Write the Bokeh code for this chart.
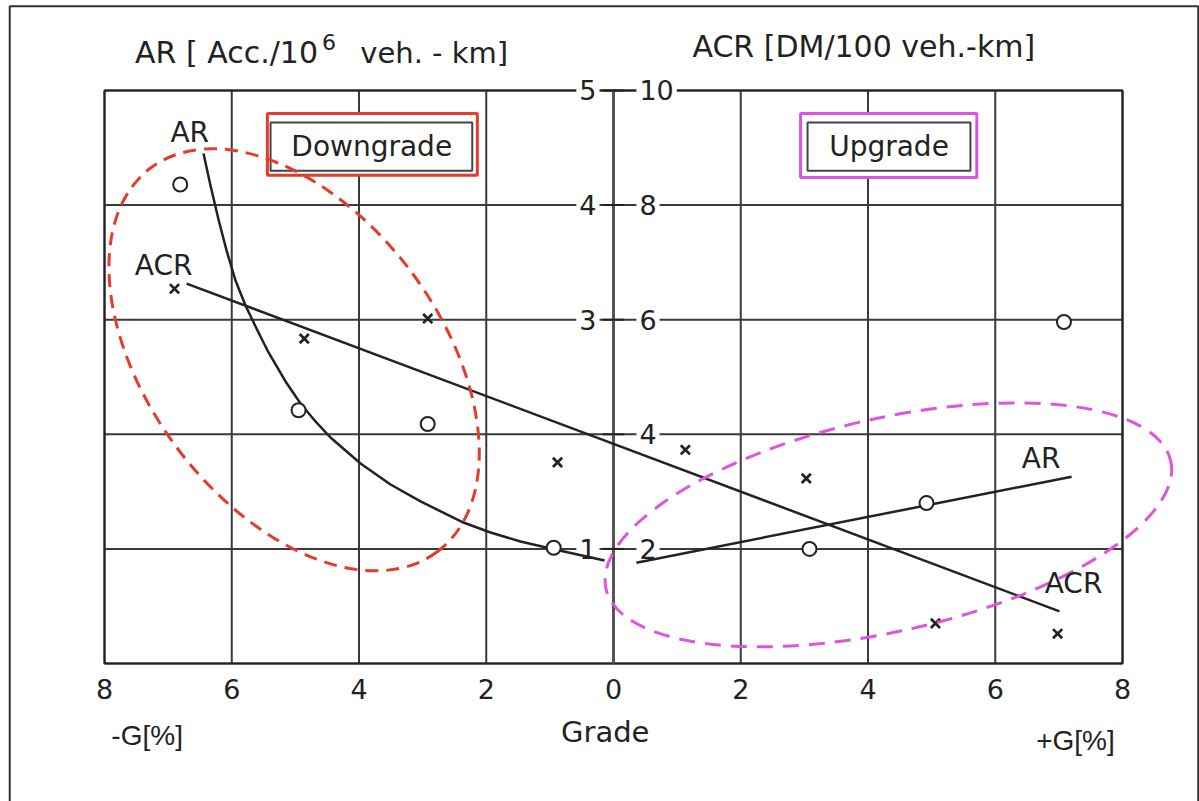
import numpy as np
from bokeh.plotting import figure
from bokeh.models import Range1d
from bokeh.core.properties import value
from bokeh.embed import file_html
from bokeh.resources import INLINE

# ---------------- data ----------------
grade_ticks = [-8, -6, -4, -2, 0, 2, 4, 6, 8]
grade_tick_labels = ["8", "6", "4", "2", "0", "2", "4", "6", "8"]
ar_levels = [0, 1, 2, 3, 4, 5]
ar_axis_levels = [5, 4, 3, 1]
ar_axis_labels = ["5", "4", "3", "1"]
acr_axis_levels = [10, 8, 6, 4, 2]
acr_axis_labels = ["10", "8", "6", "4", "2"]

# observed accident rate (AR, circles)
ar_grade = [-6.81, -4.95, -2.92, -0.94, 3.08, 4.92, 7.08]
ar_value = [4.18, 2.21, 2.09, 1.01, 1.00, 1.40, 2.98]
# observed accident cost rate (ACR, crosses)
acr_grade = [-6.90, -4.86, -2.92, -0.88, 1.13, 3.03, 5.06, 6.98]
acr_value = [6.54, 5.67, 6.02, 3.51, 3.73, 3.23, 0.70, 0.52]

# fitted AR curve, downgrade side
ar_down_grade = [-6.444, -6.334, -6.208, -6.082, -5.941, -5.784, -5.611, -5.438,
                 -5.155, -4.919, -4.684, -4.448, -3.976, -3.505, -3.033, -2.358,
                 -1.933, -1.462, -0.990, -0.141]
ar_down_value = [4.450, 4.171, 3.874, 3.604, 3.342, 3.124, 2.923, 2.731,
                 2.461, 2.269, 2.112, 1.972, 1.745, 1.562, 1.414, 1.230,
                 1.143, 1.065, 1.003, 0.899]
# fitted AR line, upgrade side
ar_up_grade = [0.36, 7.20]
ar_up_value = [0.88, 1.63]
# fitted ACR line
acr_fit_grade = [-6.71, 7.01]
acr_fit_value = [6.63, 0.91]

INK = "#222222"
GRID = "#3a3a3a"
RED = "#e53b2f"
MAG = "#dd55dd"
FONT = "DejaVu Sans"

# the frame covers the whole canvas; the chart area (-8..8, 0..5) sits inside it
X0, X1 = -9.6346, 9.2102
Y0, Y1 = -1.2042, 5.7853
p = figure(width=1199, height=801, x_range=Range1d(X0, X1), y_range=Range1d(Y0, Y1),
           x_axis_type=None, y_axis_type=None, toolbar_location=None,
           output_backend="svg", min_border=0)
p.extra_y_ranges = {"acr": Range1d(2 * Y0, 2 * Y1)}
p.outline_line_color = None
p.background_fill_color = "white"
p.border_fill_color = "white"
p.xgrid.visible = False
p.ygrid.visible = False

gmin, gmax = min(grade_ticks), max(grade_ticks)
lmin, lmax = min(ar_levels), max(ar_levels)

# outer page frame
p.quad(left=[X0 + 0.145], right=[X1 - 0.02], top=[Y1 - 0.05], bottom=[Y0 - 1],
       fill_color=None, line_color="#333333", line_width=2)

# grid
p.segment(x0=grade_ticks, x1=grade_ticks, y0=[lmin] * 9, y1=[lmax] * 9,
          line_color=GRID, line_width=2)
p.segment(x0=[gmin] * 6, x1=[gmax] * 6, y0=ar_levels, y1=ar_levels,
          line_color=GRID, line_width=2)
p.quad(left=[gmin], right=[gmax], bottom=[lmin], top=[lmax], fill_color=None,
       line_color=INK, line_width=2)

# bottom tick labels
p.text(x=grade_ticks, y=[-0.22] * 9, text=grade_tick_labels, text_align="center",
       text_baseline="middle", text_font=value(FONT), text_font_size="27px",
       text_color=INK)

# central axis
p.segment(x0=[0], y0=[lmin], x1=[0], y1=[lmax], line_color="#555555", line_width=3)
p.segment(x0=[-0.17] * 5, x1=[0.17] * 5, y0=ar_levels[1:], y1=ar_levels[1:],
          line_color=INK, line_width=2)
p.text(x=[-0.22] * 4, y=ar_axis_levels, text=ar_axis_labels, text_align="right",
       text_baseline="middle", text_font=value(FONT), text_font_size="27px",
       text_color=INK, background_fill_color="white", padding=3)
p.text(x=[0.36] * 5, y=acr_axis_levels, text=acr_axis_labels, text_align="left",
       text_baseline="middle", text_font=value(FONT), text_font_size="27px",
       text_color=INK, background_fill_color="white", padding=3, y_range_name="acr")

# label boxes
p.quad(left=[-5.44], right=[-2.14], top=[4.80], bottom=[4.26],
       fill_color="white", line_color=RED, line_width=3)
p.quad(left=[-5.39], right=[-2.22], top=[4.72], bottom=[4.30],
       fill_color="white", line_color="#444444", line_width=2)
p.quad(left=[2.94], right=[5.71], top=[4.80], bottom=[4.24],
       fill_color="white", line_color=MAG, line_width=3)
p.quad(left=[3.05], right=[5.61], top=[4.72], bottom=[4.30],
       fill_color="white", line_color="#444444", line_width=2)

# fitted lines
p.line(ar_down_grade, ar_down_value, line_color=INK, line_width=2.5, line_join="round")
p.line(ar_up_grade, ar_up_value, line_color=INK, line_width=2.5)
p.line(acr_fit_grade, acr_fit_value, line_color=INK, line_width=2.5, y_range_name="acr")

# observations
p.scatter(ar_grade, ar_value, marker="circle", size=14, fill_color="white",
          line_color=INK, line_width=2)
p.scatter(acr_grade, acr_value, marker="x", size=13, line_color=INK,
          line_width=2.7, y_range_name="acr")

# ellipses
p.ellipse(x=[-5.02], y=[2.65], width=479, height=293,
          width_units="screen", height_units="screen", angle=-0.93,
          fill_color=None, line_color=RED, line_width=3, line_dash="13 8")
p.ellipse(x=[4.32], y=[1.21], width=579, height=213,
          width_units="screen", height_units="screen", angle=0.223,
          fill_color=None, line_color=MAG, line_width=3, line_dash="16 10")

def lab(x, y, text, size="27px", align="center", baseline="middle", font=FONT):
    p.text(x=[x], y=[y], text=[text], text_align=align, text_baseline=baseline,
           text_font=value(font), text_font_size=size, text_color=INK)

# curve labels
lab(-6.66, 4.63, "AR", size="28px")
lab(-7.07, 3.47, "ACR", size="28px")
lab(6.72, 1.79, "AR", size="28px")
lab(7.23, 0.70, "ACR", size="28px")

# box texts
lab(-3.80, 4.51, "Downgrade", size="28px")
lab(4.33, 4.51, "Upgrade", size="28px")

# titles
lab(-7.52, 5.330, "AR [ Acc./10", size="30px", align="left")
lab(-4.58, 5.420, "6", size="22px", align="left")
lab(-3.98, 5.330, "veh. - km]", size="29px", align="left")
lab(1.24, 5.385, "ACR [DM/100 veh.-km]", size="30px", align="left")

# axis texts
lab(-0.13, -0.60, "Grade", size="29px")
lab(-7.33, -0.63, "-G[%]", size="28px", font="Liberation Sans")
lab(7.26, -0.67, "+G[%]", size="28px", font="Liberation Sans")

open("out.html", "w").write(file_html(p, INLINE))
